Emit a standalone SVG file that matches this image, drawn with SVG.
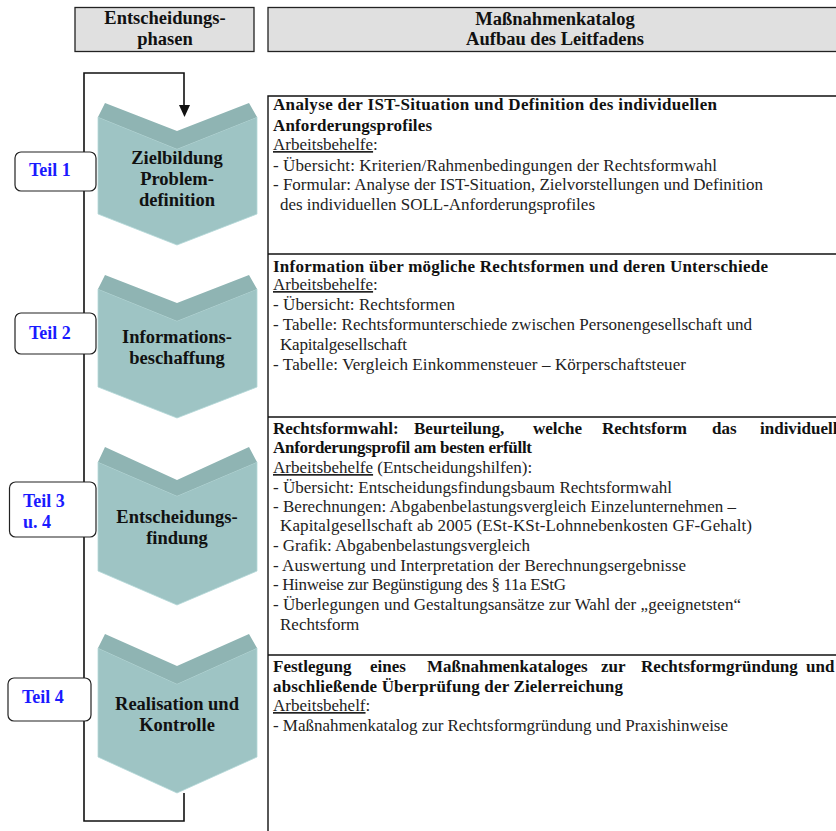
<svg xmlns="http://www.w3.org/2000/svg" width="836" height="831" viewBox="0 0 836 831">
<style>
.hdr{fill:#e0e0e0;stroke:#222;stroke-width:1.3}
.hd{font-family:"Liberation Serif",serif;font-weight:bold;font-size:18.5px;fill:#111;text-anchor:middle}
.face{fill:#9ec4c4;stroke:#b4d8d8;stroke-width:0.8}
.band{fill:#8fb4b3}
.ct{font-family:"Liberation Serif",serif;font-weight:bold;font-size:18.5px;fill:#111;text-anchor:middle}
.teil{fill:#fff;stroke:#222;stroke-width:1.2}
.tt{font-family:"Liberation Serif",serif;font-weight:bold;font-size:18px;fill:#1a1aff}
.ln{fill:none;stroke:#111;stroke-width:1.6}
.bx{fill:none;stroke:#111;stroke-width:1.4}
.t{font-family:"Liberation Serif",serif;font-size:17px;fill:#222}
.b{font-weight:bold;fill:#111}
.u{text-decoration:underline}
</style>

<g id="header">
<rect class="hdr" x="75" y="7.5" width="179" height="44"/>
<text class="hd" x="165" y="24">Entscheidungs-</text>
<text class="hd" x="165" y="45">phasen</text>
<rect class="hdr" x="268" y="7.5" width="580" height="44"/>
<text class="hd" x="555" y="25">Maßnahmenkatalog</text>
<text class="hd" x="555" y="45">Aufbau des Leitfadens</text>
</g>

<g id="connectors">
<polyline class="ln" points="184,105 184,73 84,73 84,821 184,821 184,793"/>
<polygon points="179,105 190,105 184.5,117" fill="#111"/>
</g>

<g id="chevron1">
<polygon class="face" points="98,117 177,149 257,117 257,214 177,245 98,214"/>
<polygon class="band" points="105,103 177,131 249,103 257,117 177,149 98,117"/>
<text class="ct" x="177" y="164">Zielbildung</text>
<text class="ct" x="177" y="185">Problem-</text>
<text class="ct" x="177" y="206">definition</text>
</g>

<g id="chevron2">
<polygon class="face" points="98,289 177,321 257,289 257,387 177,418 98,387"/>
<polygon class="band" points="105,275 177,303 249,275 257,289 177,321 98,289"/>
<text class="ct" x="177" y="343">Informations-</text>
<text class="ct" x="177" y="364">beschaffung</text>
</g>

<g id="chevron3">
<polygon class="face" points="98,462 177,496 257,462 257,571 177,605 98,571"/>
<polygon class="band" points="105,447 177,480 249,447 257,462 177,496 98,462"/>
<text class="ct" x="177" y="523">Entscheidungs-</text>
<text class="ct" x="177" y="544">findung</text>
</g>

<g id="chevron4">
<polygon class="face" points="98,648 177,684 257,648 257,757 177,793 98,757"/>
<polygon class="band" points="105,634 177,666 249,634 257,648 177,684 98,648"/>
<text class="ct" x="177" y="710">Realisation und</text>
<text class="ct" x="177" y="731">Kontrolle</text>
</g>

<g id="teil1">
<rect class="teil" x="15" y="152" width="81" height="39" rx="6"/>
<text class="tt" x="29" y="176">Teil 1</text>
</g>
<g id="teil2">
<rect class="teil" x="15" y="313" width="81" height="41" rx="6"/>
<text class="tt" x="29" y="339">Teil 2</text>
</g>
<g id="teil3">
<rect class="teil" x="9.5" y="482" width="86.5" height="55" rx="6"/>
<text class="tt" x="23" y="507">Teil 3</text>
<text class="tt" x="23" y="528">u. 4</text>
</g>
<g id="teil4">
<rect class="teil" x="8" y="678" width="83" height="43" rx="6"/>
<text class="tt" x="22" y="703">Teil 4</text>
</g>

<g id="catalog">
<polyline class="bx" points="268,831 268,96 840,96"/>
<line class="bx" x1="268" y1="254" x2="840" y2="254"/>
<line class="bx" x1="268" y1="417" x2="840" y2="417"/>
<line class="bx" x1="268" y1="655" x2="840" y2="655"/>

<text class="t b" x="273" y="110" textLength="444">Analyse der IST-Situation und Definition des individuellen</text>
<text class="t b" x="273" y="131" textLength="159">Anforderungsprofiles</text>
<text class="t" x="273" y="150"><tspan class="u">Arbeitsbehelfe</tspan>:</text>
<text class="t" x="273" y="171" textLength="444">- Übersicht: Kriterien/Rahmenbedingungen der Rechtsformwahl</text>
<text class="t" x="273" y="190" textLength="490">- Formular: Analyse der IST-Situation, Zielvorstellungen und Definition</text>
<text class="t" x="280" y="210" textLength="315">des individuellen SOLL-Anforderungsprofiles</text>

<text class="t b" x="273" y="272" textLength="495">Information über mögliche Rechtsformen und deren Unterschiede</text>
<text class="t" x="273" y="290"><tspan class="u">Arbeitsbehelfe</tspan>:</text>
<text class="t" x="273" y="310" textLength="182">- Übersicht: Rechtsformen</text>
<text class="t" x="273" y="330" textLength="479">- Tabelle: Rechtsformunterschiede zwischen Personengesellschaft und</text>
<text class="t" x="280" y="350" textLength="127">Kapitalgesellschaft</text>
<text class="t" x="273" y="370" textLength="413">- Tabelle: Vergleich Einkommensteuer – Körperschaftsteuer</text>

<text class="t b" y="434"><tspan x="273">Rechtsformwahl:</tspan><tspan x="414">Beurteilung,</tspan><tspan x="533">welche</tspan><tspan x="602">Rechtsform</tspan><tspan x="712">das</tspan><tspan x="760">individuelle</tspan></text>
<text class="t b" x="273" y="453" textLength="259">Anforderungsprofil am besten erfüllt</text>
<text class="t" x="273" y="473"><tspan class="u">Arbeitsbehelfe</tspan> (Entscheidungshilfen):</text>
<text class="t" x="273" y="493" textLength="399">- Übersicht: Entscheidungsfindungsbaum Rechtsformwahl</text>
<text class="t" x="273" y="512" textLength="463">- Berechnungen: Abgabenbelastungsvergleich Einzelunternehmen –</text>
<text class="t" x="280" y="531" textLength="472">Kapitalgesellschaft ab 2005 (ESt-KSt-Lohnnebenkosten GF-Gehalt)</text>
<text class="t" x="273" y="551" textLength="257">- Grafik: Abgabenbelastungsvergleich</text>
<text class="t" x="273" y="571" textLength="413">- Auswertung und Interpretation der Berechnungsergebnisse</text>
<text class="t" x="273" y="590" textLength="293">- Hinweise zur Begünstigung des § 11a EStG</text>
<text class="t" x="273" y="610" textLength="468">- Überlegungen und Gestaltungsansätze zur Wahl der „geeignetsten“</text>
<text class="t" x="280" y="630">Rechtsform</text>

<text class="t b" y="672"><tspan x="273">Festlegung</tspan><tspan x="370">eines</tspan><tspan x="427">Maßnahmenkataloges</tspan><tspan x="601">zur</tspan><tspan x="641">Rechtsformgründung</tspan><tspan x="806">und</tspan></text>
<text class="t b" x="273" y="692" textLength="350">abschließende Überprüfung der Zielerreichung</text>
<text class="t" x="273" y="711"><tspan class="u">Arbeitsbehelf</tspan>:</text>
<text class="t" x="273" y="731" textLength="455">- Maßnahmenkatalog zur Rechtsformgründung und Praxishinweise</text>
</g>
</svg>
